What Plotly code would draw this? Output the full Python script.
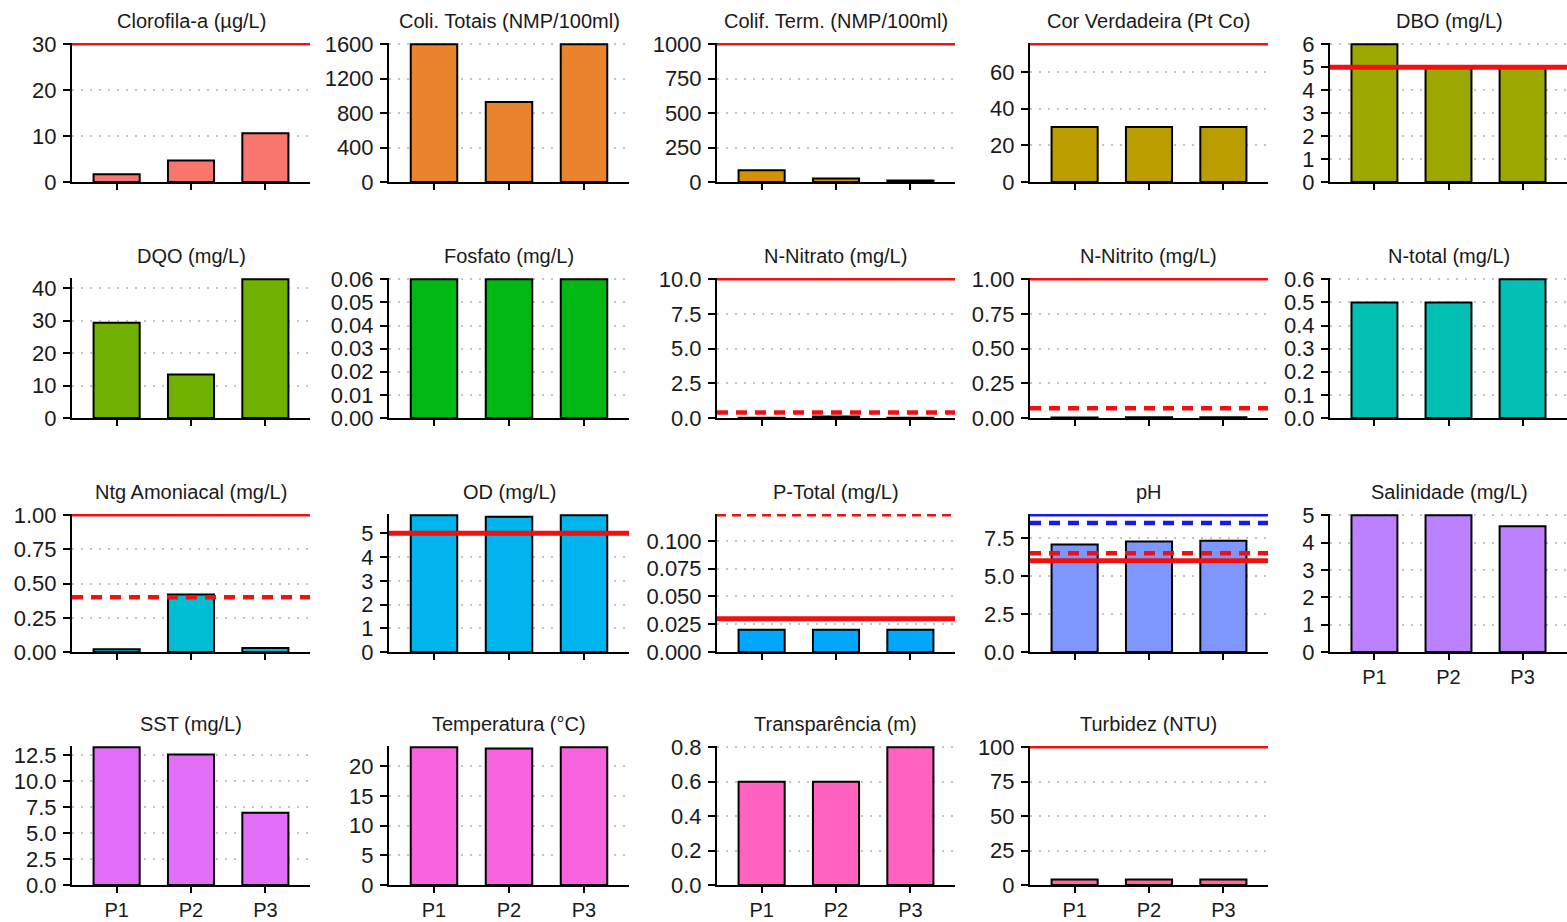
import math
import plotly.graph_objects as go

stations = ["P1", "P2", "P3"]

titles = [
    "Clorofila-a (µg/L)", "Coli. Totais (NMP/100ml)", "Colif. Term. (NMP/100ml)",
    "Cor Verdadeira (Pt Co)", "DBO (mg/L)", "DQO (mg/L)", "Fosfato (mg/L)",
    "N-Nitrato (mg/L)", "N-Nitrito (mg/L)", "N-total (mg/L)", "Ntg Amoniacal (mg/L)",
    "OD (mg/L)", "P-Total (mg/L)", "pH", "Salinidade (mg/L)", "SST (mg/L)",
    "Temperatura (°C)", "Transparência (m)", "Turbidez (NTU)",
]

clorofila_a = [1.7, 4.7, 10.6]
coli_totais = [1600, 930, 1600]
colif_term = [85, 25, 10]
cor_verdadeira = [30, 30, 30]
dbo = [6, 5, 5]
dqo = [29.3, 13.4, 42.7]
fosfato = [0.06, 0.06, 0.06]
n_nitrato = [0.02, 0.1, 0.02]
n_nitrito = [0.003, 0.006, 0.006]
n_total = [0.5, 0.5, 0.6]
ntg_amoniacal = [0.02, 0.42, 0.03]
od = [5.76, 5.7, 5.76]
p_total = [0.02, 0.02, 0.02]
ph = [7.07, 7.28, 7.33]
salinidade = [5.0, 5.0, 4.6]
sst = [13.25, 12.55, 6.95]
temperatura = [23.2, 23.0, 23.2]
transparencia = [0.6, 0.6, 0.8]
turbidez = [4, 4, 4]

values = [clorofila_a, coli_totais, colif_term, cor_verdadeira, dbo, dqo, fosfato,
          n_nitrato, n_nitrito, n_total, ntg_amoniacal, od, p_total, ph, salinidade,
          sst, temperatura, transparencia, turbidez]

# axis tops, tick steps, tick formats
y_tops = [30, 1600, 1000, 75, 6, 42.7, 0.06, 10, 1.0, 0.6, 1.0, 5.76, 0.123, 9.0, 5.0,
          13.25, 23.2, 0.8, 100]
y_dticks = [10, 400, 250, 20, 1, 10, 0.01, 2.5, 0.25, 0.1, 0.25, 1, 0.025, 2.5, 1,
            2.5, 5, 0.2, 25]
y_formats = ["d", "d", "d", "d", "d", "d", ".2f", ".1f", ".2f", ".1f", ".2f", "d", ".3f",
             ".1f", "d", ".1f", "d", ".1f", "d"]

# reference limit lines: panel index -> list of (value, kind)
limits = {
    0: [(30, "red_thin")],
    2: [(1000, "red_thin")],
    3: [(75, "red_thin")],
    4: [(5, "red_thick")],
    7: [(10, "red_thin"), (0.4, "red_dash")],
    8: [(1.0, "red_thin"), (0.07, "red_dash")],
    10: [(1.0, "red_thin"), (0.4, "red_dash")],
    11: [(5, "red_thick")],
    12: [(0.123, "red_dash_thin"), (0.03, "red_thick")],
    13: [(9.0, "blue_thin"), (8.5, "blue_dash"), (6.5, "red_dash"), (6.0, "red_thick")],
    18: [(100, "red_thin")],
}

line_styles = {
    "red_thin": dict(color="#F01010", width=2.5, dash="solid"),
    "red_thick": dict(color="#F01010", width=5, dash="solid"),
    "red_dash": dict(color="#F01010", width=4.5, dash="11px,8px"),
    "red_dash_thin": dict(color="#F01010", width=2.5, dash="9px,6px"),
    "blue_thin": dict(color="#1A1AE6", width=2.5, dash="solid"),
    "blue_dash": dict(color="#1A1AE6", width=4.5, dash="11px,8px"),
}


def hcl_hex(h, c=100.0, l=65.0):
    Xn, Yn, Zn = 95.047, 100.0, 108.883
    u = c * math.cos(math.radians(h))
    v = c * math.sin(math.radians(h))
    Y = Yn * ((l + 16) / 116) ** 3
    den = Xn + 15 * Yn + 3 * Zn
    un, vn = 4 * Xn / den, 9 * Yn / den
    up = u / (13 * l) + un
    vp = v / (13 * l) + vn
    X = 9 * Y * up / (4 * vp)
    Z = -X / 3 - 5 * Y + 3 * Y / vp
    X, Y, Z = X / 100, Y / 100, Z / 100
    r = 3.240479 * X - 1.537150 * Y - 0.498535 * Z
    g = -0.969256 * X + 1.875992 * Y + 0.041556 * Z
    b = 0.055648 * X - 0.204043 * Y + 1.057311 * Z

    def gam(t):
        t = 12.92 * t if t <= 0.0031308 else 1.055 * t ** (1 / 2.4) - 0.055
        return max(0, min(255, round(t * 255)))

    return "#%02X%02X%02X" % (gam(r), gam(g), gam(b))


n = len(titles)
colors = [hcl_hex(15 + i * 360 / n) for i in range(n)]

W, H = 1567, 922
col_px = [(72, 310), (389, 629), (717, 955), (1030, 1268), (1330, 1567)]
row_px = [(43, 182), (278, 418), (514, 652), (746, 885)]

fig = go.Figure()
layout = dict(
    width=W, height=H, margin=dict(l=0, r=0, t=0, b=0),
    paper_bgcolor="white", plot_bgcolor="white", showlegend=False,
    template="none",
    font=dict(family="Liberation Sans, Arial, sans-serif", color="#1a1a1a"),
)
annotations = []
shapes = []

for i in range(n):
    r, c = divmod(i, 5)
    xname = "x" if i == 0 else f"x{i+1}"
    yname = "y" if i == 0 else f"y{i+1}"
    xk = "xaxis" if i == 0 else f"xaxis{i+1}"
    yk = "yaxis" if i == 0 else f"yaxis{i+1}"
    x0, x1 = col_px[c]
    t0, b0 = row_px[r]
    xd = [x0 / W, min(1.0, x1 / W)]
    yd = [1 - b0 / H, 1 - t0 / H]
    show_xlabels = (r == 3) or (i == 14)
    # tiny headroom so limit lines drawn at the top value are not half clipped
    pad = y_tops[i] * 1.3 / (b0 - t0)

    fig.add_trace(go.Bar(
        x=stations, y=values[i], xaxis=xname, yaxis=yname,
        marker=dict(color=colors[i], line=dict(color="black", width=2)),
        width=0.62, showlegend=False, hoverinfo="x+y",
    ))

    layout[xk] = dict(
        domain=xd, anchor=yname, type="category", range=[-0.6, 2.6],
        showline=True, linecolor="black", linewidth=2,
        ticks="outside", ticklen=6, tickwidth=2, tickcolor="black",
        showticklabels=show_xlabels, tickfont=dict(size=20),
        showgrid=False, zeroline=False, automargin=False, fixedrange=True,
    )
    layout[yk] = dict(
        domain=yd, anchor=xname, range=[0, y_tops[i] + pad],
        tick0=0, dtick=y_dticks[i], tickformat=y_formats[i],
        showline=True, linecolor="black", linewidth=2,
        ticks="outside", ticklen=7, tickwidth=2, tickcolor="black",
        tickfont=dict(size=22), ticklabelstandoff=2,
        showgrid=True, gridcolor="#C4C4C4", gridwidth=1.8, griddash="2px,7px",
        zeroline=False, automargin=False, fixedrange=True,
    )
    annotations.append(dict(
        text=titles[i], xref="paper", yref="paper",
        x=(xd[0] + xd[1]) / 2 if c < 4 else (1330 + 1568) / 2 / W, y=yd[1],
        xanchor="center", yanchor="bottom", yshift=9, showarrow=False,
        font=dict(size=20),
    ))
    for val, kind in limits.get(i, []):
        st = line_styles[kind]
        shapes.append(dict(
            type="line", xref=f"{xname} domain", yref=yname,
            x0=0, x1=1, y0=val, y1=val, layer="above",
            line=dict(color=st["color"], width=st["width"], dash=st["dash"]),
        ))

layout["annotations"] = annotations
layout["shapes"] = shapes
fig.update_layout(**layout)
fig.write_html("out.html")
